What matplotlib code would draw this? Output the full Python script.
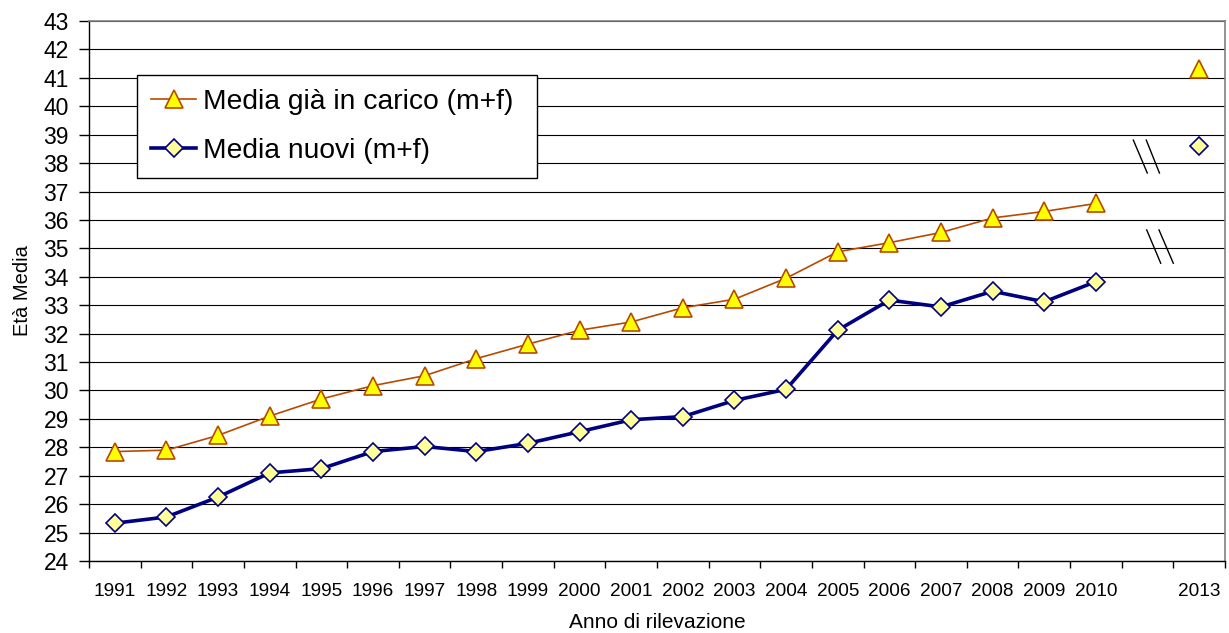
import numpy as np
import matplotlib
matplotlib.use("Agg")
import matplotlib.pyplot as plt
from matplotlib.lines import Line2D

plt.rcParams['font.family'] = ['Liberation Sans', 'DejaVu Sans']

categories = ["1991", "1992", "1993", "1994", "1995", "1996", "1997", "1998", "1999", "2000",
              "2001", "2002", "2003", "2004", "2005", "2006", "2007", "2008", "2009", "2010",
              "", "2013"]
media_gia_in_carico = [27.85, 27.9, 28.42, 29.1, 29.7, 30.17, 30.52, 31.12, 31.63, 32.12,
                       32.41, 32.91, 33.21, 33.95, 34.88, 35.2, 35.56, 36.07, 36.3, 36.58,
                       np.nan, 41.3]
media_nuovi = [25.33, 25.55, 26.25, 27.1, 27.25, 27.85, 28.03, 27.85, 28.14, 28.55,
               28.97, 29.08, 29.65, 30.04, 32.12, 33.18, 32.94, 33.49, 33.12, 33.83,
               np.nan, 38.59]
label_gia = "Media già in carico (m+f)"
label_nuovi = "Media nuovi (m+f)"
y_label = "Età Media"
x_label = "Anno di rilevazione"

fig = plt.figure(figsize=(12.29, 6.33), dpi=100)
ax = fig.add_axes([89 / 1229, 1 - 561 / 633, (1225 - 89) / 1229, (561 - 21) / 633])

x = np.arange(len(categories))
ax.plot(x, media_nuovi, color='#000080', lw=2.6, marker='D', ms=9.2,
        mfc='#FFFF99', mec='#000080', mew=1.2, label=label_nuovi, zorder=3)
ax.plot(x, media_gia_in_carico, color='#B84A00', lw=1.2, marker='^', ms=13,
        mfc='#FFFF00', mec='#B84A00', mew=1.2, label=label_gia, zorder=4)

ax.set_xlim(-0.5, len(categories) - 0.5)
ax.set_ylim(24, 43)
ax.set_yticks(np.arange(24, 44, 1))
ax.yaxis.grid(True, color='#000000', lw=0.8)
ax.set_axisbelow(True)

ax.set_xticks(x)
ax.set_xticklabels(categories, fontsize=13.7)
ax.set_xticks(np.arange(-0.5, len(categories), 1), minor=True)
ax.tick_params(axis='x', which='major', length=0, pad=16)
ax.tick_params(axis='x', which='minor', length=5, width=1, direction='out', color='black')
ax.tick_params(axis='y', which='major', length=7, width=1, direction='out', labelsize=16.5, pad=7.5)

for s in ['left', 'bottom']:
    ax.spines[s].set_color('black')
    ax.spines[s].set_linewidth(1.0)
for s in ['top', 'right']:
    ax.spines[s].set_color('#808080')
    ax.spines[s].set_linewidth(1.2)

ax.set_ylabel(y_label, fontsize=14.5)
ax.yaxis.set_label_coords(-0.05, 0.5)
ax.set_xlabel(x_label, fontsize=15, labelpad=9)

# axis break marks
for (x0, y0, x1, y1) in [(0.9193, 0.7795, 0.9316, 0.7185), (0.9307, 0.7795, 0.9423, 0.7185),
                         (0.9311, 0.6131, 0.9434, 0.5514), (0.9419, 0.6131, 0.9545, 0.5514)]:
    ax.add_line(Line2D([x0, x1], [y0, y1], transform=ax.transAxes, color='black', lw=1.0, zorder=5))

handles, labels = ax.get_legend_handles_labels()
leg = ax.legend(handles[::-1], labels[::-1], loc='upper left',
                bbox_to_anchor=(0.0423, 0.710, 0.3521, 0.190), mode='expand',
                borderaxespad=0, fontsize=20.3, frameon=True, fancybox=False,
                edgecolor='black', framealpha=1, handlelength=1.6, handletextpad=0.25,
                labelspacing=0.82, borderpad=0.5)
leg.get_frame().set_linewidth(1.0)

fig.savefig('out.png', dpi=100)
